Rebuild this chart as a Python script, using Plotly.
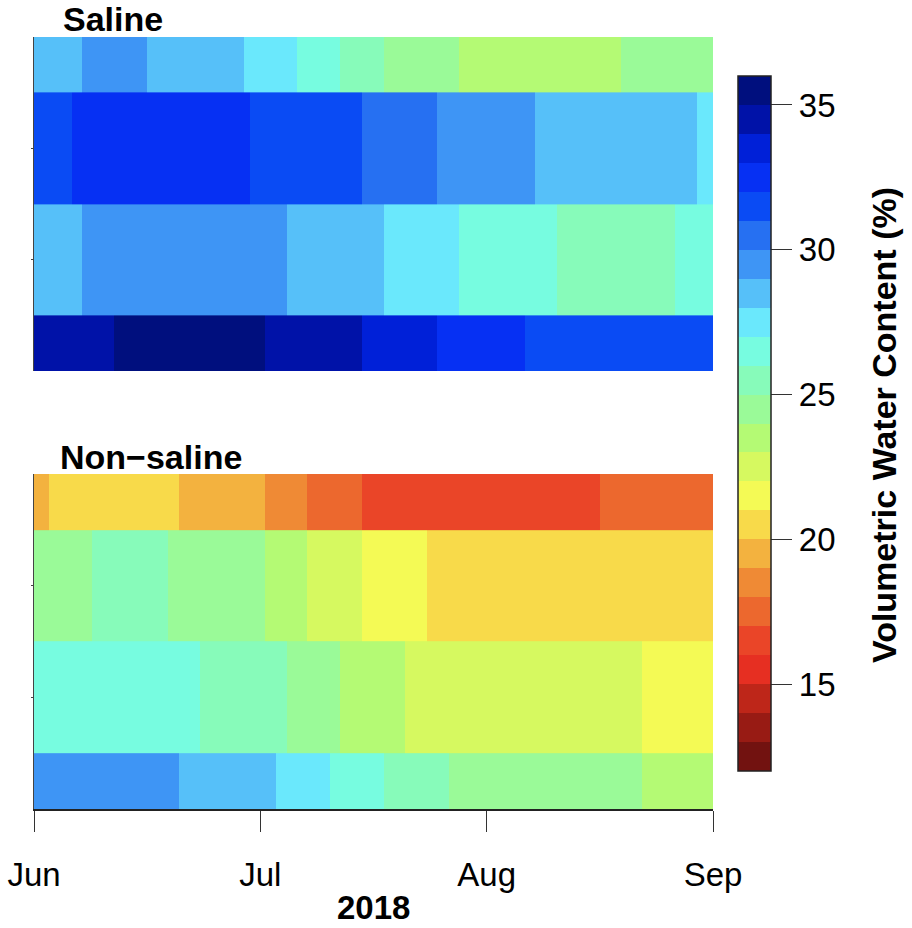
import plotly.graph_objects as go

# ---------------- data ----------------
# x positions are in "months since 1 June 2018" (0 = Jun, 1 = Jul, 2 = Aug, 3 = Sep)
month_labels = ["Jun", "Jul", "Aug", "Sep"]
month_ticks = [0, 1, 2, 3]
season_start, season_end = 0.0, 3.0
depth_index = [0, 1, 2, 3]          # 4 sensor depths, shallow (top) to deep (bottom)

# Saline site: change points (months) and volumetric water content (%) per depth
saline_d1_breaks = [0.212, 0.499, 0.928, 1.162, 1.352, 1.546, 1.878, 2.594]
saline_d1_vwc = [28.5, 29.5, 28.5, 27.5, 26.5, 25.5, 24.5, 23.5, 24.5]
saline_d2_breaks = [0.168, 0.954, 1.449, 1.781, 2.214, 2.929]
saline_d2_vwc = [31.5, 32.5, 31.5, 30.5, 29.5, 28.5, 27.5]
saline_d3_breaks = [0.212, 1.118, 1.546, 1.878, 2.311, 2.832]
saline_d3_vwc = [28.5, 29.5, 28.5, 27.5, 26.5, 25.5, 26.5]
saline_d4_breaks = [0.353, 1.021, 1.449, 1.781, 2.169]
saline_d4_vwc = [34.5, 35.5, 34.5, 33.5, 32.5, 31.5]

# Non-saline site
nonsal_d1_breaks = [0.066, 0.641, 1.021, 1.206, 1.449, 2.501]
nonsal_d1_vwc = [19.5, 20.5, 19.5, 18.5, 17.5, 16.5, 17.5]
nonsal_d2_breaks = [0.256, 0.592, 1.021, 1.206, 1.449, 1.736]
nonsal_d2_vwc = [24.5, 25.5, 24.5, 23.5, 22.5, 21.5, 20.5]
nonsal_d3_breaks = [0.733, 1.118, 1.352, 1.639, 2.686]
nonsal_d3_vwc = [26.5, 25.5, 24.5, 23.5, 22.5, 21.5]
nonsal_d4_breaks = [0.641, 1.069, 1.308, 1.546, 1.834, 2.686]
nonsal_d4_vwc = [29.5, 28.5, 27.5, 26.5, 25.5, 24.5, 23.5]

# colour key: 24 one-unit classes from 12 % to 36 %
vwc_min, vwc_max = 12, 36
class_colors = [
    "#721210", "#981B14", "#BE2619", "#E62F22", "#EA4528", "#EC682E",
    "#EF8A35", "#F3B23F", "#F8DA4A", "#F4FA55", "#D6F960", "#B4FA74",
    "#9AFA98", "#87FBBA", "#77FCE0", "#6AE8FC", "#56C0F9", "#3E95F5",
    "#2670F2", "#0A4BF4", "#0630F3", "#0020D8", "#0012A8", "#000F7E",
]
cbar_ticks = [15, 20, 25, 30, 35]
cbar_title = "Volumetric Water Content (%)"


def build_grid(breaks_list, vals_list):
    edges = sorted(set([season_start, season_end] + [b for br in breaks_list for b in br]))
    z = []
    for br, vals in zip(breaks_list, vals_list):
        row = []
        for i in range(len(edges) - 1):
            mid = 0.5 * (edges[i] + edges[i + 1])
            k = sum(1 for b in br if b <= mid)
            row.append(vals[k])
        z.append(row)
    return edges, z


sal_x, sal_z = build_grid(
    [saline_d1_breaks, saline_d2_breaks, saline_d3_breaks, saline_d4_breaks],
    [saline_d1_vwc, saline_d2_vwc, saline_d3_vwc, saline_d4_vwc])
non_x, non_z = build_grid(
    [nonsal_d1_breaks, nonsal_d2_breaks, nonsal_d3_breaks, nonsal_d4_breaks],
    [nonsal_d1_vwc, nonsal_d2_vwc, nonsal_d3_vwc, nonsal_d4_vwc])

n = len(class_colors)
colorscale = []
for i, c in enumerate(class_colors):
    colorscale.append([i / n, c])
    colorscale.append([(i + 1) / n, c])

FONT = "Liberation Sans, Arial, Helvetica, sans-serif"

fig = go.Figure()
fig.add_trace(go.Heatmap(x=sal_x, y=depth_index, z=sal_z, coloraxis="coloraxis",
                         zsmooth=False, xaxis="x", yaxis="y"))
fig.add_trace(go.Heatmap(x=non_x, y=depth_index, z=non_z, coloraxis="coloraxis",
                         zsmooth=False, xaxis="x2", yaxis="y2"))

W, H = 912, 928
ml, mr, mt, mb = 34, 199, 37, 119
ph = H - mt - mb
pw = W - ml - mr


def py(pix):
    return (H - mb - pix) / ph


def px(pix):
    return (pix - ml) / pw


yaxis_common = dict(range=[3, 0], showline=True, linecolor="#444", linewidth=1,
                    ticks="outside", ticklen=2, tickcolor="#444", tickvals=[1, 2],
                    showticklabels=False, showgrid=False, zeroline=False)

fig.update_layout(
    width=W, height=H,
    margin=dict(l=ml, r=mr, t=mt, b=mb, autoexpand=False),
    paper_bgcolor="white", plot_bgcolor="white",
    font=dict(family=FONT, color="black"),
    showlegend=False,
    xaxis=dict(domain=[0, 1], anchor="y", range=[0, 3], showticklabels=False,
               showline=False, ticks="", showgrid=False, zeroline=False),
    yaxis=dict(domain=[py(371), 1], anchor="x", **yaxis_common),
    xaxis2=dict(domain=[0, 1], anchor="y2", range=[0, 3], tickvals=month_ticks,
                ticktext=month_labels, ticks="outside", ticklen=21, tickcolor="#333",
                tickwidth=1, showline=True, linecolor="#222", linewidth=1.5,
                tickfont=dict(size=33, family=FONT), ticklabelstandoff=15,
                showgrid=False, zeroline=False),
    yaxis2=dict(domain=[0, py(474)], anchor="x2", **yaxis_common),
    coloraxis=dict(
        colorscale=colorscale, cmin=vwc_min, cmax=vwc_max,
        colorbar=dict(
            x=px(738), xanchor="left", xpad=0,
            y=py(423.5), yanchor="middle", ypad=0,
            len=695, lenmode="pixels", thickness=33, thicknessmode="pixels",
            outlinecolor="#222", outlinewidth=1.5,
            tickvals=cbar_ticks, ticks="outside", ticklen=21, tickcolor="#333",
            tickfont=dict(size=33, family=FONT),
        ),
    ),
    annotations=[
        dict(text="<b>Saline</b>", x=px(62), y=py(19), xref="paper", yref="paper",
             xanchor="left", yanchor="middle", showarrow=False, borderpad=0,
             font=dict(size=34, family=FONT)),
        dict(text="<b>Non\u2212saline</b>", x=px(59), y=py(457), xref="paper", yref="paper",
             xanchor="left", yanchor="middle", showarrow=False, borderpad=0,
             font=dict(size=34, family=FONT)),
        dict(text="<b>2018</b>", x=0.5, y=py(907), xref="paper", yref="paper",
             xanchor="center", yanchor="middle", showarrow=False, borderpad=0,
             font=dict(size=33, family=FONT)),
        dict(text="<b>" + cbar_title + "</b>", x=px(884), y=py(425), xref="paper",
             yref="paper", xanchor="center", yanchor="middle", textangle=-90,
             showarrow=False, borderpad=0, font=dict(size=34, family=FONT)),
    ],
)

fig.write_html("out.html")
